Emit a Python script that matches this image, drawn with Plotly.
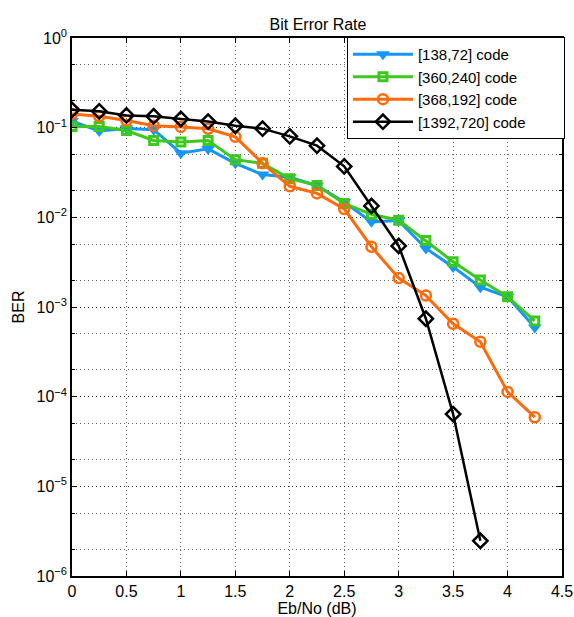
import plotly.graph_objects as go

ebno = [0, 0.25, 0.5, 0.75, 1.0, 1.25, 1.5, 1.75, 2.0, 2.25, 2.5, 2.75, 3.0, 3.25, 3.5, 3.75, 4.0, 4.25]
ebno_black = ebno[:16]

ber_138 = [0.118, 0.092, 0.098, 0.095, 0.052, 0.058, 0.040, 0.030, 0.028, 0.0225, 0.0148, 0.0089,
           0.0092, 0.0045, 0.0028, 0.00166, 0.0013, 0.00059]
ber_360 = [0.103, 0.103, 0.093, 0.072, 0.069, 0.072, 0.044, 0.040, 0.027, 0.0227, 0.0143, 0.0108,
           0.0093, 0.0055, 0.0032, 0.0020, 0.0013, 0.0007]
ber_368 = [0.142, 0.134, 0.120, 0.105, 0.102, 0.097, 0.079, 0.040, 0.0222, 0.0185, 0.0124, 0.0047,
           0.0021, 0.00134, 0.00065, 0.00041, 0.000113, 5.9e-5]
ber_1392 = [0.158, 0.152, 0.137, 0.134, 0.125, 0.117, 0.105, 0.0975, 0.080, 0.063, 0.037, 0.0134,
            0.0048, 0.00074, 6.4e-5, 2.47e-6]

names = ["[138,72] code", "[360,240] code", "[368,192] code", "[1392,720] code"]
y_tickvals = [1e-6, 1e-5, 1e-4, 1e-3, 1e-2, 1e-1, 1]
y_ticktext = ["10<sup>−6</sup>", "10<sup>−5</sup>", "10<sup>−4</sup>", "10<sup>−3</sup>",
              "10<sup>−2</sup>", "10<sup>−1</sup>", "10<sup>0</sup>"]
x_tickvals = [0, 0.5, 1, 1.5, 2, 2.5, 3, 3.5, 4, 4.5]
x_ticktext = ["0", "0.5", "1", "1.5", "2", "2.5", "3", "3.5", "4", "4.5"]

FONT = "Liberation Sans, Arial, sans-serif"
PAD = "\u00a0" * 8  # trailing space inside the legend box, as in the reference

fig = go.Figure()
fig.add_trace(go.Scatter(x=ebno, y=ber_138, name=names[0] + PAD, mode="lines+markers",
                         line=dict(color="#1496FA", width=3),
                         marker=dict(symbol="triangle-down", size=12, color="#1496FA")))
fig.add_trace(go.Scatter(x=ebno, y=ber_360, name=names[1] + PAD, mode="lines+markers",
                         line=dict(color="#3CC81E", width=3),
                         marker=dict(symbol="square-open", size=8, color="#3CC81E",
                                     line=dict(width=3, color="#3CC81E"))))
fig.add_trace(go.Scatter(x=ebno, y=ber_368, name=names[2] + PAD, mode="lines+markers",
                         line=dict(color="#FF6A0A", width=3),
                         marker=dict(symbol="circle-open", size=10, color="#FF6A0A",
                                     line=dict(width=2.5, color="#FF6A0A"))))
fig.add_trace(go.Scatter(x=ebno_black, y=ber_1392, name=names[3] + PAD, mode="lines+markers",
                         line=dict(color="black", width=2.5),
                         marker=dict(symbol="diamond-open", size=11, color="black",
                                     line=dict(width=2.5, color="black"))))

grid = "rgba(0,0,0,0.6)"
gdash = "1px,3px"
fig.update_layout(
    width=574, height=617,
    margin=dict(l=72, r=12, t=38, b=41, autoexpand=False),
    paper_bgcolor="white", plot_bgcolor="white",
    font=dict(family=FONT, size=16, color="black"),
    title=dict(text="Bit Error Rate", x=318 / 574, xanchor="center", xref="container",
               y=1 - 24 / 617, yanchor="middle", yref="container", automargin=False,
               font=dict(size=16, family=FONT, color="black")),
    showlegend=True,
    legend=dict(x=1.006, xanchor="right", y=1.002, yanchor="top", bgcolor="white",
                bordercolor="black", borderwidth=1, font=dict(size=15, family=FONT),
                itemwidth=60, tracegroupgap=0),
    xaxis=dict(range=[0, 4.5], tickvals=x_tickvals, ticktext=x_ticktext, automargin=False,
               ticks="inside", ticklen=5, tickcolor="black", mirror="allticks",
               showline=True, linecolor="black", linewidth=1.5,
               showgrid=True, gridcolor=grid, griddash=gdash, gridwidth=1,
               zeroline=False,
               title=dict(text="Eb/No (dB)", standoff=1, font=dict(size=16))),
    yaxis=dict(type="log", range=[-6, 0], tickvals=y_tickvals, ticktext=y_ticktext,
               automargin=False,
               ticks="inside", ticklen=5, tickcolor="black", mirror="allticks",
               showline=True, linecolor="black", linewidth=1.5,
               showgrid=True, gridcolor=grid, griddash=gdash, gridwidth=1,
               zeroline=False,
               minor=dict(ticks="inside", ticklen=3, tickcolor="black", showgrid=True,
                          gridcolor=grid, griddash=gdash, gridwidth=1),
               title=dict(text="BER", standoff=8, font=dict(size=16))),
)

fig.write_html("out.html", config={"displayModeBar": False},
               post_script="document.body.style.margin='0px';")
